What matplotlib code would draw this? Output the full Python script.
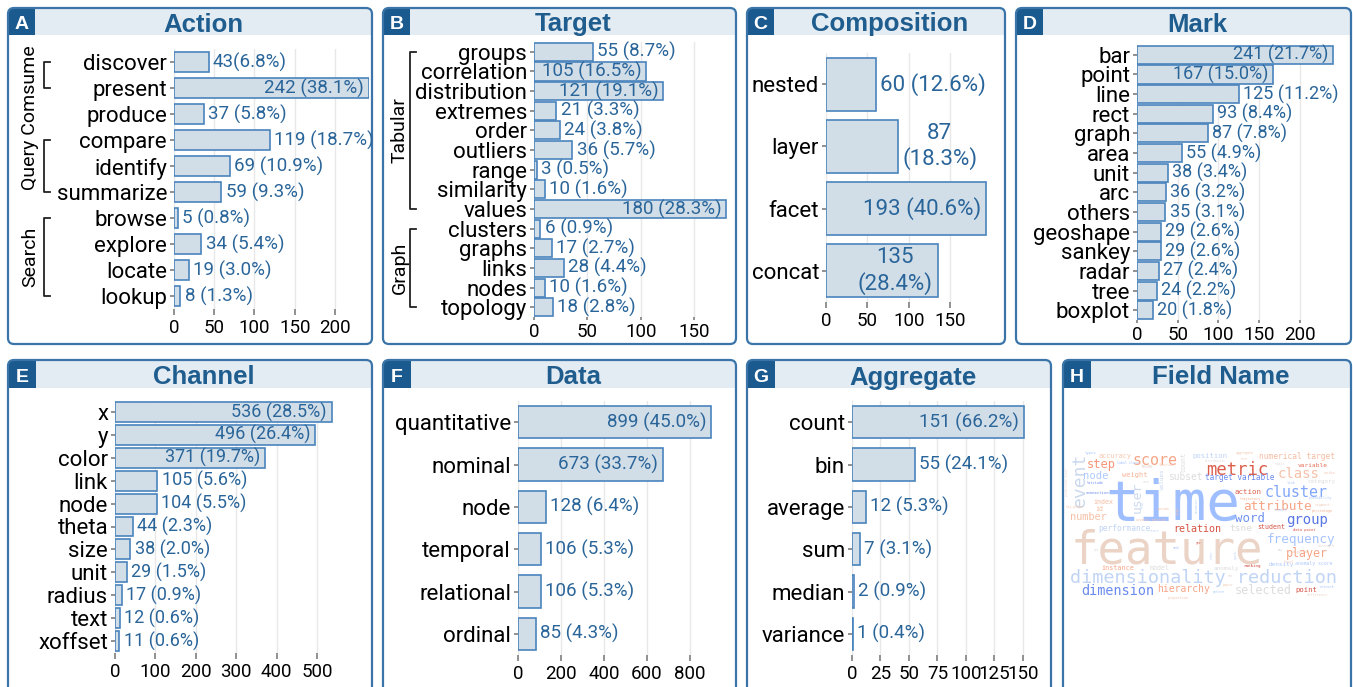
import matplotlib.pyplot as plt
import numpy as np
from matplotlib.patches import FancyBboxPatch, Rectangle
from matplotlib.transforms import IdentityTransform, blended_transform_factory

plt.rcParams['font.family'] = ['Roboto', 'DejaVu Sans']

# ---- data ----
action_cats = ["discover", "present", "produce", "compare", "identify", "summarize",
               "browse", "explore", "locate", "lookup"]
action_vals = [43, 242, 37, 119, 69, 59, 5, 34, 19, 8]
action_pct = [6.8, 38.1, 5.8, 18.7, 10.9, 9.3, 0.8, 5.4, 3.0, 1.3]

target_cats = ["groups", "correlation", "distribution", "extremes", "order", "outliers",
               "range", "similarity", "values", "clusters", "graphs", "links", "nodes", "topology"]
target_vals = [55, 105, 121, 21, 24, 36, 3, 10, 180, 6, 17, 28, 10, 18]
target_pct = [8.7, 16.5, 19.1, 3.3, 3.8, 5.7, 0.5, 1.6, 28.3, 0.9, 2.7, 4.4, 1.6, 2.8]

comp_cats = ["nested", "layer", "facet", "concat"]
comp_vals = [60, 87, 193, 135]
comp_pct = [12.6, 18.3, 40.6, 28.4]

mark_cats = ["bar", "point", "line", "rect", "graph", "area", "unit", "arc", "others",
             "geoshape", "sankey", "radar", "tree", "boxplot"]
mark_vals = [241, 167, 125, 93, 87, 55, 38, 36, 35, 29, 29, 27, 24, 20]
mark_pct = [21.7, 15.0, 11.2, 8.4, 7.8, 4.9, 3.4, 3.2, 3.1, 2.6, 2.6, 2.4, 2.2, 1.8]

channel_cats = ["x", "y", "color", "link", "node", "theta", "size", "unit", "radius", "text", "xoffset"]
channel_vals = [536, 496, 371, 105, 104, 44, 38, 29, 17, 12, 11]
channel_pct = [28.5, 26.4, 19.7, 5.6, 5.5, 2.3, 2.0, 1.5, 0.9, 0.6, 0.6]

data_cats = ["quantitative", "nominal", "node", "temporal", "relational", "ordinal"]
data_vals = [899, 673, 128, 106, 106, 85]
data_pct = [45.0, 33.7, 6.4, 5.3, 5.3, 4.3]

agg_cats = ["count", "bin", "average", "sum", "median", "variance"]
agg_vals = [151, 55, 12, 7, 2, 1]
agg_pct = [66.2, 24.1, 5.3, 3.1, 0.9, 0.4]

# word cloud: word, size (px), colour tone on coolwarm
cloud_words = ["time", "feature", "dimensionality reduction", "metric", "score", "class", "cluster",
               "event", "user", "step", "node", "accuracy", "weight", "team", "types", "label class",
               "values", "count", "function", "position", "distribution", "subset", "target variable",
               "aggregate", "text", "numerical target", "variable", "topic", "weibo", "category", "link",
               "action", "trajectory", "probability", "attribute", "segment", "percentage", "commit",
               "word", "group", "index", "id", "latitude", "connection", "prediction score", "key player",
               "number", "rate", "person", "flow", "prog", "parameter", "performance", "academic position",
               "start", "relation", "tsne", "student", "data point", "frequency", "rank", "geo", "order",
               "epoch", "map", "strength", "longitude", "pca", "player", "level", "instance", "model",
               "anomaly", "ranking", "density", "anomaly score", "one", "dimension", "hierarchy",
               "selected", "point", "paper", "pattern", "proportion", "network", "difference"]
cloud_size = [56, 45.6, 18.5, 17.2, 15, 14, 15,
              18, 13, 12, 10.5, 6.9, 7, 5, 4, 3.2,
              6, 6.7, 3.4, 7.3, 3, 9.7, 7.75,
              3.4, 3, 7.9, 6.2, 3.5, 3.5, 5.8, 3.8,
              7.4, 3.5, 3.5, 12.7, 3.8, 3.5, 3.5,
              12.4, 14, 6.6, 6.6, 3.5, 4, 3, 3,
              10.2, 3, 3.3, 3, 3, 3, 7.9, 3,
              3.3, 10, 9.5, 6.7, 3.8, 12.6, 3, 3, 3,
              3, 3, 3.5, 3.5, 3, 11.6, 3.5, 6.8, 6.6,
              6, 4.2, 6, 4.9, 3, 13.5, 9.8,
              11.8, 7.3, 3.5, 3, 3.5, 3.5, 3.5]
cloud_tone = [0.3, 0.56, 0.4, 0.88, 0.72, 0.63, 0.22,
              0.44, 0.44, 0.76, 0.35, 0.62, 0.68, 0.53, 0.35, 0.3,
              0.42, 0.5, 0.62, 0.4, 0.5, 0.5, 0.15,
              0.62, 0.58, 0.65, 0.85, 0.52, 0.62, 0.5, 0.35,
              0.88, 0.7, 0.35, 0.72, 0.58, 0.7, 0.38,
              0.17, 0.1, 0.65, 0.65, 0.15, 0.15, 0.55, 0.62,
              0.64, 0.5, 0.65, 0.4, 0.65, 0.4, 0.4, 0.62,
              0.4, 0.9, 0.5, 0.9, 0.9, 0.32, 0.3, 0.85, 0.4,
              0.4, 0.5, 0.55, 0.6, 0.5, 0.72, 0.62, 0.72, 0.5,
              0.5, 0.92, 0.35, 0.35, 0.55, 0.15, 0.72,
              0.5, 0.9, 0.6, 0.35, 0.62, 0.35, 0.55]
# layout of the cloud (pixel x centre, baseline y, rotation)
cloud_layout = [(1173, 520, 0), (1167, 563, 0), (1203, 583, 0), (1237, 475, 0), (1155, 465, 0),
                (1299, 478, 0), (1296, 497, 0), (1080, 480, 90), (1137, 497, 90), (1101, 468, 0),
                (1096, 479, 0), (1115, 458, 0), (1135, 477, 0), (1147, 468, 0), (1091, 454, 0),
                (1128, 464, 0), (1162, 479, 90), (1183, 462, 90), (1167, 466, 0), (1210, 458, 0),
                (1215, 462, 0), (1185, 480, 0), (1240, 480, 0), (1245, 454, 0), (1244, 460, 0),
                (1297, 459, 0), (1313, 467, 0), (1280, 465, 0), (1329, 474, 0), (1321, 483, 0),
                (1291, 484, 0), (1248, 494, 0), (1250, 500, 0), (1320, 499, 0), (1277, 510, 0),
                (1322, 506, 0), (1322, 512, 0), (1281, 511, 0), (1250, 522, 0), (1307, 524, 0),
                (1103, 504, 0), (1099, 511, 0), (1095, 484, 0), (1097, 494, 0), (1067, 482, 90),
                (1075, 508, 0), (1088, 520, 0), (1146, 483, 0), (1164, 510, 0), (1143, 505, 90),
                (1178, 510, 90), (1197, 505, 90), (1124, 531, 0), (1151, 521, 0), (1155, 532, 0),
                (1197, 532, 0), (1241, 531, 0), (1271, 529, 0), (1304, 531, 0), (1301, 543, 0),
                (1176, 549, 0), (1198, 544, 0), (1212, 555, 90), (1236, 555, 90), (1280, 551, 0),
                (1326, 547, 0), (1300, 553, 0), (1096, 551, 0), (1307, 557, 0), (1289, 563, 0),
                (1118, 570, 0), (1160, 570, 0), (1226, 570, 0), (1252, 567, 0), (1281, 566, 0),
                (1314, 565, 0), (1230, 577, 0), (1118, 595, 0), (1184, 592, 0), (1263, 594, 0),
                (1306, 592, 0), (1228, 586, 0), (1219, 593, 0), (1178, 599, 0), (1327, 588, 0),
                (1317, 596, 0)]

# ---- style ----
W, H = 1353, 687
HEAD_FILL = "#e3ebf3"
BADGE = "#1b5a8e"
TITLE_C = "#1f5d8e"
BORDER = "#3a74a8"
BAR_FILL = "#d1dde7"
BAR_EDGE = "#4a84bd"
LABEL_C = "#2a659a"
PX = IdentityTransform()

fig = plt.figure(figsize=(W / 100, H / 100), dpi=100)


def py(y):
    return H - y


def draw_box(letter, title, box, head_bottom):
    x0, y0, x1, y1 = box
    body = FancyBboxPatch((x0, py(y1)), x1 - x0, y1 - y0, boxstyle="round,pad=0,rounding_size=6",
                          transform=PX, facecolor="white", edgecolor="none", zorder=1)
    fig.add_artist(body)
    head = Rectangle((x0, py(head_bottom)), x1 - x0, head_bottom - y0, transform=PX,
                     facecolor=HEAD_FILL, edgecolor="none", zorder=1.1)
    fig.add_artist(head)
    head.set_clip_path(body)
    badge = Rectangle((x0, py(head_bottom)), head_bottom - y0, head_bottom - y0, transform=PX,
                      facecolor=BADGE, edgecolor="none", zorder=1.2)
    fig.add_artist(badge)
    badge.set_clip_path(body)
    edge = FancyBboxPatch((x0, py(y1)), x1 - x0, y1 - y0, boxstyle="round,pad=0,rounding_size=6",
                          transform=PX, facecolor="none", edgecolor=BORDER, lw=1.6, zorder=1.3)
    fig.add_artist(edge)
    bw = head_bottom - y0
    fig.text(x0 + bw / 2, py(head_bottom - 6), letter, transform=PX, ha="center", va="baseline",
             color="white", fontsize=14, fontweight="bold", family="Liberation Sans", zorder=3)
    fig.text((x0 + bw + x1) / 2, py(head_bottom - 3.5), title, transform=PX, ha="center",
             va="baseline", color=TITLE_C, fontsize=18.5, fontweight="bold",
             family="Liberation Sans", zorder=3)


def bar_panel(rect, cats, vals, labels, xmax, ticks, height, inside, lab_size=13.5,
              tick_len=4.3, tick_pad=3):
    x0, top, x1, bottom = rect
    ax = fig.add_axes([x0 / W, 1 - bottom / H, (x1 - x0) / W, (bottom - top) / H])
    ax.set_zorder(2)
    ax.set_facecolor("none")
    n = len(cats)
    y = np.arange(n)
    ax.barh(y, vals, height=height, color=BAR_FILL, edgecolor=BAR_EDGE, linewidth=1.2, zorder=2)
    for i, (v, lab) in enumerate(zip(vals, labels)):
        if i in inside:
            ax.annotate(lab, (v, i), xytext=(-3.5, 0), textcoords="offset points", ha="right",
                        va="center", color=LABEL_C, fontsize=lab_size, multialignment="center",
                        zorder=3)
        else:
            ax.annotate(lab, (v, i), xytext=(3, 0), textcoords="offset points", ha="left",
                        va="center", color=LABEL_C, fontsize=lab_size, multialignment="center",
                        zorder=3, annotation_clip=False)
    ax.set_xlim(0, xmax)
    ax.set_ylim(n - 0.5, -0.5)
    ax.set_xticks(ticks)
    ax.set_xticklabels([str(t) for t in ticks], fontsize=13.5)
    ax.set_yticks(y)
    ax.set_yticklabels(cats, fontsize=16)
    for s in ax.spines.values():
        s.set_visible(False)
    ax.tick_params(axis="x", length=tick_len, width=1.3, color="#888888", pad=tick_pad)
    ax.tick_params(axis="y", length=3, width=1.3, color="#888888", pad=2)
    ax.grid(axis="x", color="#e8e8e8", lw=1)
    ax.set_axisbelow(True)
    ax.set_autoscale_on(False)
    return ax


def bracket(ax, x, r0, r1, label, lx, ly):
    tr = blended_transform_factory(PX, ax.transData)
    ax.plot([x + 6, x, x, x + 6], [r0, r0, r1, r1], transform=tr, color="#222222", lw=1.3,
            clip_on=False)
    if label:
        ax.text(lx, ly, label, transform=tr, rotation=90, ha="center", va="center", fontsize=14,
                clip_on=False)


def make_labels(vals, pct):
    return [f"{v} ({p:.1f}%)" for v, p in zip(vals, pct)]


# ---- top row ----
draw_box("A", "Action", (8, 8, 372, 344), 35)
draw_box("B", "Target", (383, 8, 736, 344), 35)
draw_box("C", "Composition", (747, 8, 1005, 344), 35)
draw_box("D", "Mark", (1016, 8, 1351, 344), 35)
# ---- bottom row ----
draw_box("E", "Channel", (8, 360, 372, 720), 388)
draw_box("F", "Data", (383, 360, 736, 720), 388)
draw_box("G", "Aggregate", (747, 360, 1051, 720), 388)
draw_box("H", "Field Name", (1063, 360, 1351, 720), 388)

action_labels = make_labels(action_vals, action_pct)
action_labels[0] = "43(6.8%)"
axA = bar_panel((174, 49, 369, 309), action_cats, action_vals, action_labels, 242.3,
                [0, 50, 100, 150, 200], 0.75, [1])
bracket(axA, 44, 0, 1, "", 30, 0)
bracket(axA, 44, 3, 5, "", 30, 0)
bracket(axA, 44, 6, 9, "Search", 30, 7.5)
axA.text(30, 2.15, "Query Comsume", transform=blended_transform_factory(PX, axA.transData),
         rotation=90, ha="center", va="center", fontsize=14, clip_on=False)

axB = bar_panel((534, 42, 728, 317), target_cats, target_vals, make_labels(target_vals, target_pct),
                181.8, [0, 50, 100, 150], 0.92, [1, 2, 8], tick_len=2, tick_pad=2.5)
bracket(axB, 410, 0, 8, "Tabular", 400, 4)
bracket(axB, 410, 9, 13, "Graph", 400, 11)

comp_labels = make_labels(comp_vals, comp_pct)
comp_labels[1] = comp_labels[1].replace(" ", "\n")
comp_labels[3] = comp_labels[3].replace(" ", "\n")
bar_panel((826, 53, 989, 302), comp_cats, comp_vals, comp_labels, 197,
          [0, 50, 100, 150], 0.85, [2, 3], lab_size=16)

bar_panel((1137, 45, 1335, 320), mark_cats, mark_vals, make_labels(mark_vals, mark_pct), 243.5,
          [0, 50, 100, 150, 200], 0.92, [0, 1], lab_size=13, tick_len=2, tick_pad=2.5)

bar_panel((115, 400.5, 335, 652.5), channel_cats, channel_vals,
          make_labels(channel_vals, channel_pct), 544.5, [0, 100, 200, 300, 400, 500], 0.87,
          [0, 1, 2], lab_size=13)

bar_panel((518, 401, 713, 655), data_cats, data_vals, make_labels(data_vals, data_pct), 907,
          [0, 200, 400, 600, 800], 0.77, [0, 1])

bar_panel((852, 401, 1025, 655), agg_cats, agg_vals, make_labels(agg_vals, agg_pct), 152,
          [0, 25, 50, 75, 100, 125, 150], 0.77, [0])

# ---- word cloud ----
cmap = plt.get_cmap("coolwarm")
for word, size, tone, (cx, by, rot) in zip(cloud_words, cloud_size, cloud_tone, cloud_layout):
    if rot:
        fig.text(cx, py(by), word, transform=PX, rotation=rot, ha="center", va="center",
                 fontsize=size * 0.72, color=cmap(tone), family="DejaVu Sans Mono", zorder=3)
    else:
        fig.text(cx, py(by), word, transform=PX, ha="center", va="baseline",
                 fontsize=size * 0.72, color=cmap(tone), family="DejaVu Sans Mono", zorder=3)

fig.savefig("out.png", dpi=100)
